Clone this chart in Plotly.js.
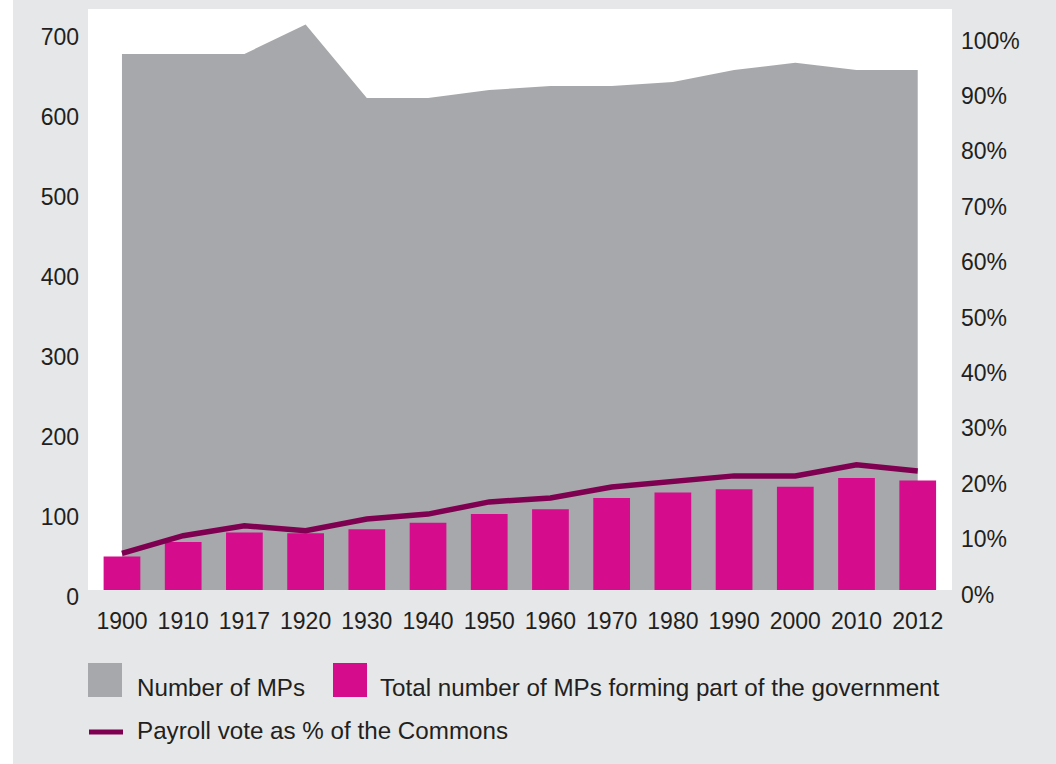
<!DOCTYPE html>
<html>
<head>
<meta charset="utf-8">
<script src="https://cdn.plot.ly/plotly-3.0.1.min.js"></script>
<style>html,body{margin:0;padding:0;background:#fff;}#chart{width:1056px;height:764px;}</style>
</head>
<body>
<div id="chart"></div>
<script>
var years = ['1900','1910','1917','1920','1930','1940','1950','1960','1970','1980','1990','2000','2010','2012'];
var numberOfMPs = [670, 670, 670, 707, 615, 615, 625, 630, 630, 635, 650, 659, 650, 650];
var governmentMPs = [42, 60, 72, 71, 76, 84, 95, 101, 115, 122, 126, 129, 140, 137];
var payrollPct = [6.6, 9.8, 11.6, 10.7, 12.8, 13.7, 15.9, 16.6, 18.6, 19.6, 20.6, 20.6, 22.6, 21.5];
var leftTicks = [0, 100, 200, 300, 400, 500, 600, 700];
var rightTicks = [0, 10, 20, 30, 40, 50, 60, 70, 80, 90, 100];
var legendLabels = ['Number of MPs', 'Total number of MPs forming part of the government', 'Payroll vote as % of the Commons'];

var GREY = '#a7a8ab', MAGENTA = '#d50c8b', PURPLE = '#7f0050', BG = '#e6e7e9', TXT = '#231f20';
var FONT = 'Liberation Sans, Arial, Helvetica, sans-serif';

// outer plot area: x 88..952, y 9..597 (data region ends at y=590)
var TOP = 9, BOTTOM = 597, H = BOTTOM - TOP;
function px(x){ return (x - 88) / 864; }
function py(y){ return (BOTTOM - y) / H; }

var LEFT_SCALE = 0.8;    // px per MP
var RIGHT_SCALE = 5.54;  // px per percentage point
var DATA_BASE = 590, LEFT_LABEL_BASE = 596.5, RIGHT_LABEL_BASE = 594.5;

var traces = [
  {type:'scatter', mode:'lines', x:years, y:numberOfMPs, fill:'tozeroy', fillcolor:GREY,
   line:{color:GREY, width:0}, name:legendLabels[0], showlegend:false},
  {type:'bar', x:years, y:governmentMPs, yaxis:'y2', marker:{color:MAGENTA, line:{width:0}}, width:0.6,
   name:legendLabels[1], showlegend:false},
  {type:'scatter', mode:'lines', x:years, y:payrollPct, yaxis:'y3',
   line:{color:PURPLE, width:5.5}, name:legendLabels[2], showlegend:false},
  // invisible carriers for the label-only axes
  {type:'scatter', mode:'lines', x:years, y:numberOfMPs, yaxis:'y4', opacity:0,
   line:{width:0}, showlegend:false, hoverinfo:'skip'},
  {type:'scatter', mode:'lines', x:years, y:payrollPct, yaxis:'y5', opacity:0,
   line:{width:0}, showlegend:false, hoverinfo:'skip'}
];

var hidden = {showgrid:false, zeroline:false, showline:false, ticks:'', showticklabels:false};
function ax(o){ var r = {}; for (var k in hidden) r[k] = hidden[k]; for (var k2 in o) r[k2] = o[k2]; return r; }

var dataDomain = [py(DATA_BASE), 1];
var leftMax = (DATA_BASE - TOP) / LEFT_SCALE;
var rightMax = (DATA_BASE - TOP) / RIGHT_SCALE;

var layout = {
  width:1056, height:764,
  margin:{l:88, r:104, t:TOP, b:764 - BOTTOM, pad:0},
  paper_bgcolor:BG, plot_bgcolor:'rgba(0,0,0,0)',
  font:{family:FONT, color:TXT, size:22},
  showlegend:false,
  xaxis:{type:'category', range:[-0.555, 13.56], showgrid:false, zeroline:false, showline:false,
         ticks:'', tickfont:{size:23, color:TXT}, ticklabelstandoff:15},
  yaxis:ax({domain:dataDomain, range:[0, leftMax]}),
  yaxis2:ax({overlaying:'y', range:[0, leftMax]}),
  yaxis3:ax({overlaying:'y', side:'right', range:[0, rightMax]}),
  // label-only axes, placed a few pixels lower than the data scale as in the original
  yaxis4:{anchor:'x', side:'left', domain:[py(LEFT_LABEL_BASE), 1],
          range:[0, (LEFT_LABEL_BASE - TOP) / LEFT_SCALE], tickvals:leftTicks,
          showgrid:false, zeroline:false, showline:false, ticks:'',
          tickfont:{size:23, color:TXT}, ticklabelstandoff:8},
  yaxis5:{anchor:'x', side:'right', domain:[py(RIGHT_LABEL_BASE), 1],
          range:[0, (RIGHT_LABEL_BASE - TOP) / RIGHT_SCALE], tickvals:rightTicks,
          ticktext:rightTicks.map(function(v){return v + '%';}),
          showgrid:false, zeroline:false, showline:false, ticks:'',
          tickfont:{size:23, color:TXT}, ticklabelstandoff:8},
  shapes:[
    {type:'rect', xref:'paper', yref:'paper', x0:0, x1:1, y0:py(DATA_BASE), y1:1,
     fillcolor:'#ffffff', line:{width:0}, layer:'below'},
    {type:'rect', xref:'paper', yref:'paper', x0:px(0), x1:px(13), y0:py(764), y1:py(0),
     fillcolor:'#ffffff', line:{width:0}, layer:'above'},
    {type:'rect', xref:'paper', yref:'paper', x0:px(88), x1:px(122), y0:py(697), y1:py(663),
     fillcolor:GREY, line:{width:0}},
    {type:'rect', xref:'paper', yref:'paper', x0:px(333), x1:px(367), y0:py(697), y1:py(663),
     fillcolor:MAGENTA, line:{width:0}},
    {type:'line', xref:'paper', yref:'paper', x0:px(89), x1:px(123), y0:py(732), y1:py(732),
     line:{color:PURPLE, width:5}}
  ],
  annotations:[
    {xref:'paper', yref:'paper', x:px(135), y:py(688), xanchor:'left', yanchor:'middle',
     text:legendLabels[0], showarrow:false, font:{size:24.2, color:TXT}},
    {xref:'paper', yref:'paper', x:px(378), y:py(688), xanchor:'left', yanchor:'middle',
     text:legendLabels[1], showarrow:false, font:{size:24.2, color:TXT}},
    {xref:'paper', yref:'paper', x:px(135), y:py(730), xanchor:'left', yanchor:'middle',
     text:legendLabels[2], showarrow:false, font:{size:24.2, color:TXT}}
  ]
};

Plotly.newPlot('chart', traces, layout, {displayModeBar:false, staticPlot:true});
</script>
</body>
</html>
